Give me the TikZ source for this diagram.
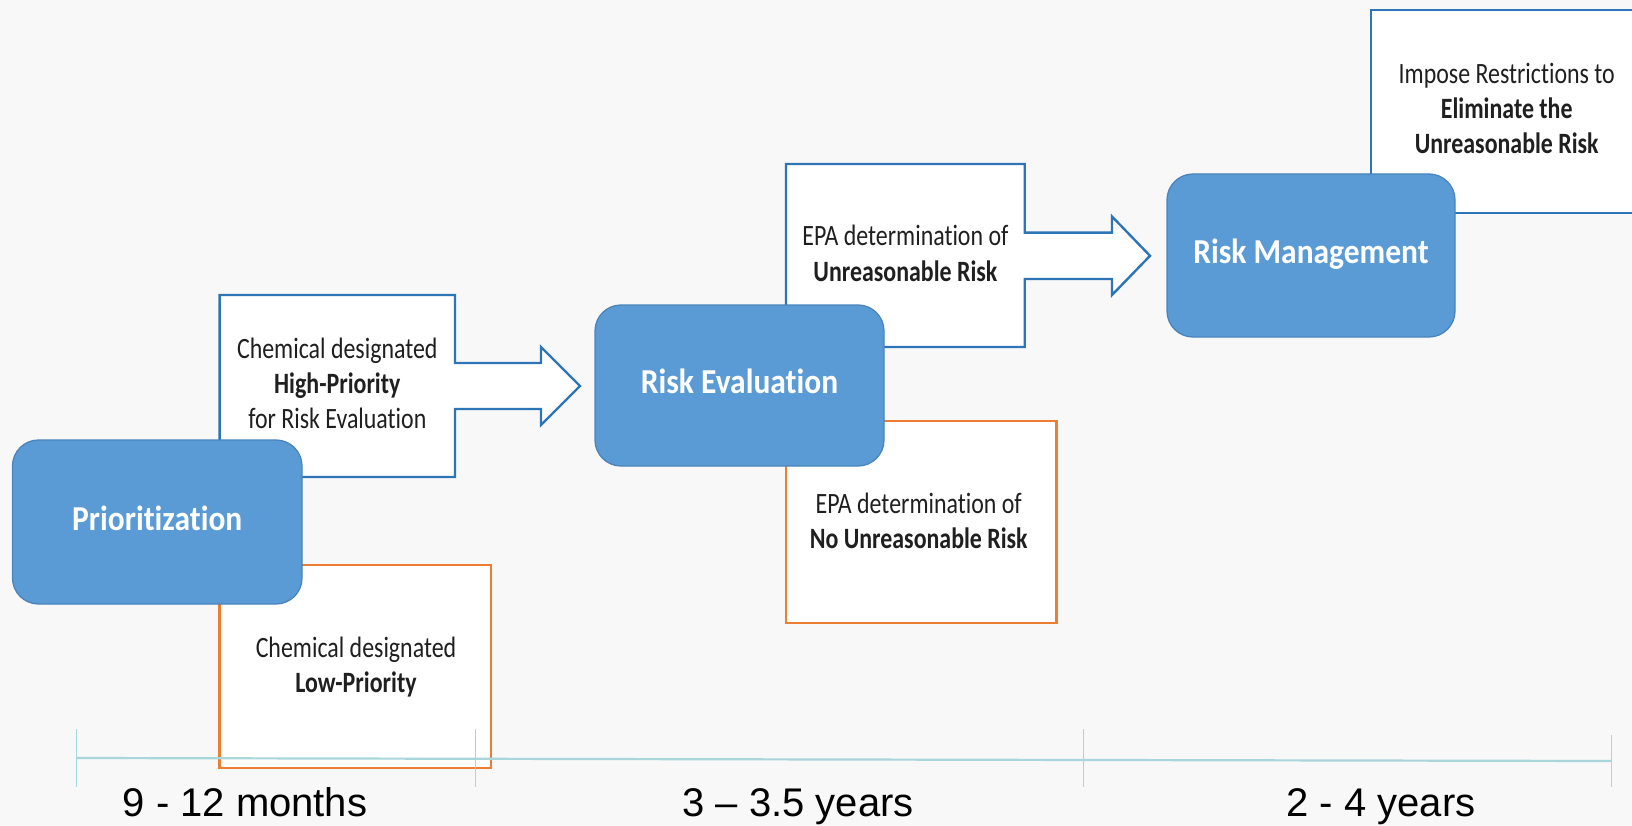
\documentclass[tikz,border=0pt]{standalone}
\usepackage{fontspec}
\setmainfont[Ligatures=NoCommon]{Carlito}
\newfontfamily\arialf{Liberation Sans}
\usepackage{graphicx}
\definecolor{bg}{HTML}{F8F8F8}
\definecolor{phasefill}{HTML}{5B9BD5}
\definecolor{phaseedge}{HTML}{4A84BC}
\definecolor{callblue}{HTML}{2E75B6}
\definecolor{callorange}{HTML}{ED7D31}
\definecolor{teal}{HTML}{A8D6DB}
\newcommand{\sqz}[2][0.81]{\scalebox{#1}[1]{\begin{tabular}{@{}c@{}}#2\end{tabular}}}
\tikzset{
  phase/.style={rectangle, rounded corners=26pt, fill=phasefill, draw=phaseedge, line width=1.3pt,
    text=white, font=\fontsize{35}{42}\selectfont\bfseries, inner sep=0pt},
  bluecall/.style={draw=callblue, fill=white, line width=2.4pt, miter limit=10},
  orangebox/.style={rectangle, draw=callorange, fill=white, line width=2.4pt, inner sep=0pt,
    text=black!88, font=\fontsize{29.5}{35}\selectfont},
  ctext/.style={inner sep=0pt, text=black!88, font=\fontsize{29.5}{35}\selectfont},
  tline/.style={draw=teal, line width=2.2pt},
  ttick/.style={draw=teal, line width=1pt},
  lab/.style={inner sep=0pt, anchor=base, font=\arialf\fontsize{40}{48}\selectfont, text=black},
}
\begin{document}
\begin{tikzpicture}[x=1pt,y=-1pt]
\useasboundingbox (0,0) rectangle (1632,826);
\fill[bg] (0,0) rectangle (1632,826);
\clip (0,0) rectangle (1632,826);

% --- callouts behind phase boxes ---
\draw[bluecall] (219.6,295) -- (455,295) -- (455,363) -- (541,363) -- (541,347) -- (580,386)
  -- (541,425) -- (541,409) -- (455,409) -- (455,477) -- (219.6,477) -- cycle;
\node[ctext] (hp) at (337.3,386) {\sqz{Chemical designated\\\textbf{High-Priority}\\for Risk Evaluation}};

\node[orangebox, minimum width=271.4pt, minimum height=203pt] (lp) at (355.3,666.5) {};
\node[ctext] (lptext) at (356,668) {\sqz{Chemical designated\\\textbf{Low-Priority}}};

\draw[bluecall] (786,164) -- (1024.7,164) -- (1024.7,232.6) -- (1112,232.6) -- (1112,216.5) -- (1150,255.8)
  -- (1112,295) -- (1112,279) -- (1024.7,279) -- (1024.7,347) -- (786,347) -- cycle;
\node[ctext] (ur) at (905.4,256.5) {\sqz{EPA determination of\\\textbf{Unreasonable Risk}}};

\node[orangebox, minimum width=270.5pt, minimum height=202.3pt] (nur) at (921.25,521.85) {};
\node[ctext] (nurtext) at (918.7,524) {\sqz{EPA determination of\\\textbf{No Unreasonable Risk}}};

\node[rectangle, draw=callblue, fill=white, line width=2.4pt, minimum width=271pt, minimum height=203pt, inner sep=0pt] (imp) at (1506.5,111.5) {};
\node[ctext] (imptext) at (1506.7,112) {\sqz{Impose Restrictions to\\\textbf{Eliminate the}\\\textbf{Unreasonable Risk}}};

% --- timeline ---
\coordinate (t0) at (76,758);
\coordinate (t1) at (475.6,759);
\coordinate (t2) at (1083.5,760);
\coordinate (t3) at (1611,761);
\draw[tline] (t0) -- (t3);
\draw[ttick] (76,729) -- (76,787);
\draw[ttick] (475.6,729) -- (475.6,787);
\draw[ttick] (1083.5,729) -- (1083.5,787);
\draw[ttick] (1611,735) -- (1611,787);
\node[lab] (l1) at (245,816) {9 - 12 months};
\node[lab] (l2) at (798,816) {3 – 3.5 years};
\node[lab] (l3) at (1381,816) {2 - 4 years};

% --- phase boxes on top ---
\node[phase, minimum width=289.5pt, minimum height=164pt] (prio) at (157.25,522) {\sqz[0.9]{Prioritization}};
\node[phase, minimum width=289pt, minimum height=161pt] (reval) at (739.5,385.5) {\sqz[0.9]{Risk Evaluation}};
\node[phase, minimum width=288pt, minimum height=163pt] (rman) at (1311,255.5) {\sqz[0.9]{Risk Management}};
\end{tikzpicture}
\end{document}
